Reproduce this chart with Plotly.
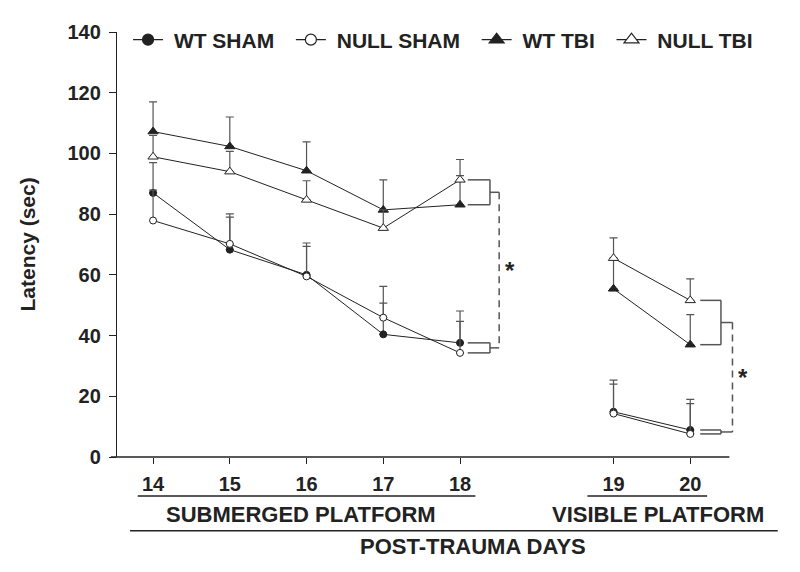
import plotly.graph_objects as go

# ---- data ----
submerged_days = [14, 15, 16, 17, 18]
visible_days = [19, 20]
days = submerged_days + visible_days

wt_sham = [87.0, 68.3, 60.0, 40.4, 37.6, 14.9, 8.9]
wt_sham_err = [10.0, 10.7, 10.5, 10.3, 10.5, 10.4, 10.1]
null_sham = [77.9, 70.2, 59.5, 45.9, 34.3, 14.3, 7.6]
null_sham_err = [10.0, 9.9, 9.9, 10.3, 10.4, 9.7, 10.0]
wt_tbi = [107.2, 102.3, 94.3, 81.4, 83.1, 55.4, 37.0]
wt_tbi_err = [9.8, 9.7, 9.5, 9.9, 9.6, 10.0, 9.9]
null_tbi = [98.9, 94.0, 84.7, 75.4, 91.3, 65.5, 51.6]
null_tbi_err = [7.0, 6.7, 6.3, 6.0, 6.7, 6.7, 7.1]

tick_labels = [str(d) for d in days]

# axis positions: visible phase shifted by one empty slot
xpos = list(range(len(submerged_days))) + [len(submerged_days) + 1 + i for i in range(len(visible_days))]
XMIN, XMAX = -0.47, 8.0
YMIN, YMAX = 0, 140

FONT = "Liberation Sans, Arial, sans-serif"
INK = "#222222"
ERR = "#555555"
NB = "\u00a0"

fig = go.Figure()

series = [
    ("WT SHAM", wt_sham, wt_sham_err, "circle", INK, 7, 11),
    ("NULL SHAM", null_sham, null_sham_err, "circle", "white", 7, 11),
    ("WT TBI", wt_tbi, wt_tbi_err, "triangle-up", INK, 9, 13),
    ("NULL TBI", null_tbi, null_tbi_err, "triangle-up", "white", 9, 13),
]

for name, vals, errs, sym, fill, size, lsize in series:
    # legend entry (larger symbol, as in the original key)
    fig.add_trace(go.Scatter(
        x=[None], y=[None], name=NB + name + NB * 2, legendgroup=name, showlegend=True,
        mode="lines+markers", line=dict(color=INK, width=1.3),
        marker=dict(symbol=sym, size=lsize, color=fill, line=dict(color=INK, width=1.2)),
        hoverinfo="skip",
    ))
    # submerged and visible phases drawn as separate line segments
    for seg in (slice(0, 5), slice(5, 7)):
        fig.add_trace(go.Scatter(
            x=xpos[seg], y=vals[seg], name=name, legendgroup=name, showlegend=False,
            mode="lines+markers",
            line=dict(color=INK, width=1),
            marker=dict(symbol=sym, size=size, color=fill, line=dict(color=INK, width=1)),
            error_y=dict(type="data", symmetric=False, array=errs[seg],
                         arrayminus=[0] * len(errs[seg]),
                         color=ERR, thickness=1.2, width=4),
            cliponaxis=False,
        ))

def px(x):
    return (x - XMIN) / (XMAX - XMIN)

shapes = []
# x axis line
shapes.append(dict(type="line", xref="paper", yref="paper", x0=px(-0.55), x1=px(7.51), y0=0, y1=0,
                   line=dict(color=INK, width=1.3)))

def bracket(xi, top_a, top_b, bot_a, bot_b, d0, d1, d2):
    x = xpos[xi]
    out = []
    for a, b in ((top_a, top_b), (bot_a, bot_b)):
        for v in (a, b):
            out.append(dict(type="line", xref="x", yref="y", x0=x + d0, x1=x + d1, y0=v, y1=v,
                            line=dict(color=ERR, width=1.5)))
        out.append(dict(type="line", xref="x", yref="y", x0=x + d1, x1=x + d1, y0=a, y1=b,
                        line=dict(color=ERR, width=1.5)))
        m = (a + b) / 2
        out.append(dict(type="line", xref="x", yref="y", x0=x + d1, x1=x + d2, y0=m, y1=m,
                        line=dict(color=ERR, width=1.5)))
    mt = (top_a + top_b) / 2
    mb = (bot_a + bot_b) / 2
    out.append(dict(type="line", xref="x", yref="y", x0=x + d2, x1=x + d2, y0=mt, y1=mb,
                    line=dict(color=ERR, width=1.5, dash="7px,5px")))
    return out, (mt + mb) / 2

s1, mid1 = bracket(4, null_tbi[4], wt_tbi[4], wt_sham[4], null_sham[4], 0.10, 0.39, 0.51)
s2, mid2 = bracket(6, null_tbi[6], wt_tbi[6], wt_sham[6], null_sham[6], 0.13, 0.40, 0.55)
shapes += s1 + s2

# phase underlines and overall line
UL_Y = (457 - 496) / 426
LL_Y = (457 - 531) / 426
shapes.append(dict(type="line", xref="paper", yref="paper", x0=px(-0.2), x1=px(4.2), y0=UL_Y, y1=UL_Y,
                   line=dict(color=INK, width=1.5)))
shapes.append(dict(type="line", xref="paper", yref="paper", x0=px(5.66), x1=px(7.22), y0=UL_Y, y1=UL_Y,
                   line=dict(color=INK, width=1.5)))
shapes.append(dict(type="line", xref="paper", yref="paper", x0=px(-0.3), x1=px(8.14), y0=LL_Y, y1=LL_Y,
                   line=dict(color=INK, width=1.5)))

bold = dict(family=FONT, size=22, color=INK)
annotations = [
    dict(text="<b>SUBMERGED PLATFORM</b>", xref="paper", yref="paper", x=px(1.93), y=(457 - 515) / 426,
         showarrow=False, font=bold, xanchor="center", yanchor="middle"),
    dict(text="<b>VISIBLE PLATFORM</b>", xref="paper", yref="paper", x=px(6.58), y=(457 - 515) / 426,
         showarrow=False, font=bold, xanchor="center", yanchor="middle"),
    dict(text="<b>POST-TRAUMA DAYS</b>", xref="paper", yref="paper", x=px(4.17), y=(457 - 547) / 426,
         showarrow=False, font=bold, xanchor="center", yanchor="middle"),
    dict(text="<b>Latency (sec)</b>", xref="paper", yref="paper", x=(27 - 117) / 650, y=0.5,
         textangle=-90, showarrow=False, font=dict(family=FONT, size=21, color=INK),
         xanchor="center", yanchor="middle"),
    dict(text="<b>*</b>", xref="x", yref="y", x=xpos[4] + 0.65, y=mid1, showarrow=False,
         font=dict(family=FONT, size=24, color=INK), xanchor="center", yanchor="middle"),
    dict(text="<b>*</b>", xref="x", yref="y", x=xpos[6] + 0.69, y=mid2, showarrow=False,
         font=dict(family=FONT, size=24, color=INK), xanchor="center", yanchor="middle"),
]

fig.update_layout(
    width=792, height=564,
    margin=dict(l=109, r=33, t=23, b=115),
    paper_bgcolor="white", plot_bgcolor="white",
    font=dict(family=FONT, color=INK),
    showlegend=True,
    legend=dict(orientation="h", x=0.017, xanchor="left", y=(457 - 40) / 426, yanchor="middle",
                font=dict(family=FONT, size=21, color=INK, weight="bold"),
                bgcolor="rgba(0,0,0,0)", itemwidth=30, tracegroupgap=0),
    shapes=shapes,
    annotations=annotations,
)
fig.update_xaxes(range=[XMIN, XMAX], tickmode="array", tickvals=xpos, ticktext=tick_labels,
                 ticks="outside", ticklen=6, tickwidth=1.3, tickcolor=INK, showline=False,
                 showgrid=False, zeroline=False, ticklabelstandoff=3,
                 tickfont=dict(family=FONT, size=20, color=INK, weight="bold"))
fig.update_yaxes(range=[YMIN, YMAX], dtick=20, ticks="outside", ticklen=7, tickwidth=1.3,
                 tickcolor=INK, showline=True, linecolor=INK, linewidth=1.3, showgrid=False,
                 zeroline=False, ticklabelstandoff=4,
                 tickfont=dict(family=FONT, size=20, color=INK, weight="bold"))

fig.write_html("out.html")
